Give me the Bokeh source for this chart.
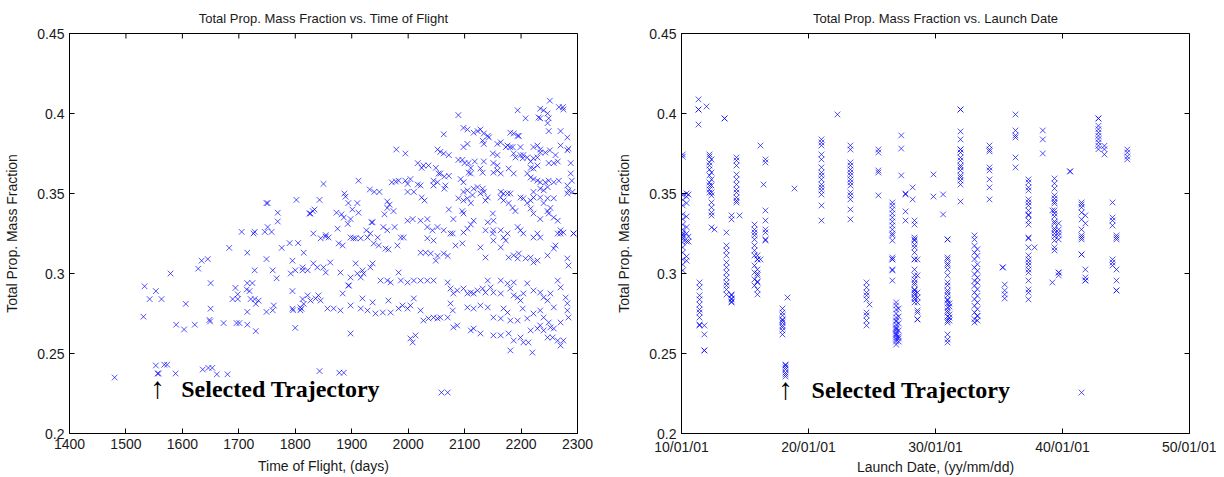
import numpy as np
from bokeh.plotting import figure
from bokeh.layouts import row
from bokeh.models import Range1d, FixedTicker, NumeralTickFormatter, Label
from bokeh.embed import file_html
from bokeh.resources import INLINE

# ---------------- data: left panel (time of flight vs mass fraction) ----------------
tof_days = [
    1480, 1533, 1542, 1531, 1553, 1563, 1579, 1589, 1603, 1606,
    1622, 1628, 1634, 1645, 1650, 1650, 1648, 1649, 1673, 1683,
    1689, 1694, 1696, 1701, 1698, 1698, 1705, 1715, 1715, 1714,
    1724, 1719, 1721, 1715, 1715, 1728, 1728, 1730, 1730, 1728,
    1735, 1749, 1749, 1760, 1760, 1762, 1758, 1746, 1767, 1776,
    1790, 1805, 1792, 1795, 1795, 1795, 1796, 1800, 1800, 1809,
    1811, 1813, 1815, 1813, 1815, 1822, 1553, 1556, 1558, 1568,
    1573, 1588, 1636, 1646, 1653, 1661, 1680, 1843, 1878, 1886,
    2059, 2070, 1726, 1751, 1749, 1751, 1769, 1769, 1802, 1825,
    1850, 1843, 1834, 1831, 1827, 1887, 1889, 1873, 1882, 1886,
    1894, 1901, 1910, 1912, 1898, 1893, 1875, 1912, 1932, 1940,
    1949, 1935, 1937, 1926, 1963, 1967, 1963, 1974, 1958, 1971,
    1978, 1983, 1979, 1995, 1976, 1995, 2004, 1999, 1999, 2010,
    1999, 2008, 2017, 2024, 2024, 2029, 2017, 2022, 2034, 2027,
    2036, 2049, 2045, 2052, 2045, 2052, 2057, 2063, 2072, 2063,
    2054, 2057, 2064, 2072, 2066, 2064, 2080, 2089, 2096, 2072,
    2089, 2098, 2105, 2098, 2105, 2093, 2098, 2100, 2107, 2111,
    2107, 2111, 2089, 2098, 2105, 2111, 2098, 2105, 2114, 2096,
    2098, 2111, 2105, 2116, 2116, 2123, 2128, 2134, 2143, 2132,
    2134, 2141, 2118, 2128, 2132, 2134, 2116, 2123, 2132, 2134,
    2128, 2137, 2141, 2137, 2151, 2151, 2158, 2151, 2158, 2164,
    2150, 2158, 2158, 2164, 2173, 2176, 2181, 2181, 2187, 2194,
    2196, 2194, 2208, 2187, 2190, 2199, 2203, 2204, 2185, 2199,
    2178, 2187, 2164, 2169, 2176, 2181, 2164, 2169, 2178, 2185,
    2190, 2199, 2204, 2211, 2217, 2222, 2211, 2217, 2222, 2229,
    2234, 2243, 2249, 2258, 2267, 2211, 2217, 2222, 2229, 2234,
    2217, 2222, 2229, 2222, 2229, 2234, 2243, 2251, 2234, 2240,
    2247, 2249, 2247, 2249, 2234, 2231, 2251, 2267, 2274, 2275,
    2270, 2282, 2270, 2282, 2284, 2249, 2258, 2265, 2261, 2288,
    2288, 2290, 2282, 2284, 2291, 2282, 2247, 2240, 2234, 2222,
    2234, 2247, 2258, 2240, 2252, 2217, 2222, 2234, 2247, 2249,
    2258, 2265, 2270, 2275, 2293, 2194, 2199, 2204, 2222, 2164,
    2176, 2169, 2150, 2151, 2141, 2063, 2075, 2043, 2052, 2022,
    2034, 1956, 1963, 1933, 1946, 1898, 1907, 1854, 1859, 1854,
    1877, 1884, 1903, 1916, 1928, 1939, 1948, 1960, 1965, 1981,
    1987, 1992, 2022, 2031, 2040, 2052, 2063, 2070, 2084, 2096,
    2049, 2079, 2098, 2034, 2045, 2128, 2137, 2150, 2151, 2164,
    2173, 2178, 2187, 2194, 2196, 2208, 2217, 2222, 2229, 2229,
    2234, 2247, 2258, 2261, 2265, 2270, 2282, 2284, 2293, 1813,
    1832, 1839, 1850, 1854, 1862, 1880, 1898, 1910, 1921, 1919,
    1933, 1937, 1951, 1963, 1969, 1983, 1987, 1999, 2010, 2022,
    2034, 2045, 1907, 1916, 1894, 1895, 2070, 2075, 2080, 2087,
    2098, 2105, 2111, 2116, 2123, 2132, 2137, 2146, 2151, 2164,
    2176, 2181, 2187, 2194, 2199, 2204, 2211, 2222, 2234, 2240,
    2247, 2252, 2265, 2270, 2279, 2282, 2187, 2164, 2141, 1809,
    1822, 1827, 1836, 1845, 1841, 1857, 1868, 1880, 1884, 1898,
    1916, 1919, 1928, 1937, 1942, 1955, 1969, 1965, 1983, 1990,
    1999, 2004, 2010, 2022, 2027, 2036, 2045, 2052, 2057, 2070,
    2075, 2079, 2080, 2087, 2111, 2116, 2128, 2105, 2116, 2128,
    2141, 2151, 2164, 2169, 2176, 2181, 2194, 2203, 2211, 2222,
    2234, 2240, 2249, 2258, 2270, 2282, 2284, 1898, 2004, 2008,
    2013, 2151, 2164, 2178, 2181, 2187, 2199, 2204, 2213, 2217,
    2220, 2229, 2234, 2240, 2247, 2252, 2258, 2256, 2265, 2270,
    2275, 1832, 1845,
]
tof_mass_fraction = [
    .235, .292, .284, .273, .289, .284, .300, .268, .265, .281,
    .268, .303, .308, .309, .294, .278, .271, .270, .269, .316,
    .284, .291, .269, .269, .287, .284, .326, .313, .294, .290,
    .294, .289, .284, .276, .268, .302, .284, .281, .264, .326,
    .283, .309, .276, .302, .277, .280, .326, .326, .297, .316,
    .319, .319, .300, .289, .308, .278, .277, .302, .266, .277,
    .278, .302, .313, .284, .281, .302, .2425, .2375, .2375, .243,
    .243, .2375, .240, .241, .241, .237, .237, .239, .238, .238,
    .2256, .2256, .325, .329, .344, .344, .338, .3325, .346, .3375,
    .356, .346, .340, .339, .3375, .350, .348, .338, .337, .335,
    .344, .340, .344, .338, .334, .331, .328, .358, .3525, .351,
    .351, .332, .332, .327, .345, .343, .341, .339, .337, .357,
    .3575, .358, .3775, .375, .329, .358, .359, .356, .351, .351,
    .333, .334, .369, .366, .3475, .3456, .3556, .355, .334, .3675,
    .3675, .366, .358, .357, .355, .3775, .376, .375, .374, .387,
    .3625, .3625, .3606, .361, .355, .353, .334, .371, .371, .340,
    .399, .391, .390, .379, .381, .359, .357, .369, .369, .366,
    .363, .3625, .347, .3456, .347, .344, .351, .352, .349, .339,
    .3375, .3306, .328, .333, .388, .389, .390, .3875, .385, .383,
    .381, .386, .370, .3656, .363, .370, .353, .354, .353, .351,
    .350, .3456, .3475, .327, .327, .369, .3675, .363, .3644, .3625,
    .375, .374, .381, .382, .379, .380, .379, .388, .3875, .386,
    .386, .402, .397, .375, .3725, .374, .372, .374, .379, .379,
    .3656, .3625, .351, .350, .350, .350, .3475, .3456, .344, .341,
    .339, .3475, .347, .344, .3456, .3475, .3625, .360, .359, .358,
    .357, .357, .358, .357, .358, .3725, .370, .372, .3725, .3756,
    .366, .3656, .3675, .379, .380, .3775, .3756, .377, .403, .402,
    .400, .397, .394, .389, .397, .3975, .408, .404, .404, .4025,
    .389, .385, .380, .377, .378, .369, .369, .370, .374, .369,
    .3625, .358, .355, .352, .351, .350, .354, .352, .353, .351,
    .3475, .347, .347, .344, .341, .3406, .3375, .334, .339, .3375,
    .335, .333, .327, .3256, .325, .329, .327, .325, .3225, .327,
    .325, .3225, .3375, .333, .332, .327, .325, .327, .329, .333,
    .329, .329, .327, .325, .3225, .3225, .322, .324, .3225, .323,
    .3188, .3175, .322, .322, .3225, .3188, .3175, .3156, .315, .3175,
    .3225, .3225, .313, .313, .3125, .311, .3125, .311, .3175, .3188,
    .308, .325, .3256, .322, .3206, .3163, .310, .325, .3206, .3163,
    .3206, .310, .3113, .3094, .3125, .3094, .310, .3069, .3081, .325,
    .3225, .3113, .3156, .3175, .325, .325, .3094, .305, .325, .3038,
    .3063, .3038, .3038, .3006, .3069, .3006, .2975, .300, .300, .3019,
    .3038, .3063, .2956, .2956, .2944, .3006, .2956, .2944, .2956, .2956,
    .2956, .2956, .3063, .2975, .2925, .2925, .2944, .2906, .2875, .2894,
    .2906, .2875, .2881, .2875, .2894, .2906, .2881, .2913, .2881, .2875,
    .2938, .2906, .2863, .285, .2831, .2875, .2938, .2894, .2881, .285,
    .2831, .2875, .2956, .2913, .285, .2813, .2944, .2956, .2956, .2788,
    .2863, .2831, .2844, .2831, .2863, .2781, .2781, .2769, .2875, .280,
    .2781, .2844, .2769, .2819, .275, .2756, .2756, .2831, .2781, .280,
    .2781, .280, .2844, .2769, .2706, .2719, .2725, .2719, .2725, .2725,
    .2813, .2769, .2663, .2675, .2644, .2656, .2625, .2788, .2781, .280,
    .2788, .2725, .2719, .2781, .2756, .2706, .2706, .2781, .2719, .275,
    .2769, .2725, .2694, .2788, .2694, .2769, .2725, .2625, .2594, .2569,
    .2613, .2613, .2613, .2625, .2519, .2581, .260, .2569, .2569, .2644,
    .2506, .2656, .2675, .2644, .260, .2663, .2656, .260, .2581, .255,
    .2581, .325, .322,
]

# ---------------- data: right panel (launch date, as decimal year, vs mass fraction) ----------------
launch_col_year = [
    2010.10, 2010.40, 2010.55, 2011.34, 2011.42, 2011.80, 2011.97, 2012.20, 2012.36, 2012.60,
    2013.39, 2013.54, 2013.94, 2014.33, 2014.57, 2015.75, 2015.98, 2016.22, 2016.46, 2016.61,
    2017.95, 2018.19, 2018.35, 2018.90, 2021.02, 2022.28, 2023.30, 2024.57, 2024.80, 2025.50,
    2026.60, 2026.90, 2027.10, 2027.30, 2027.64, 2028.20, 2028.35, 2028.58, 2029.84, 2030.60,
    2030.95, 2031.10, 2031.97, 2033.07, 2033.30, 2034.25, 2035.30, 2035.45, 2036.30, 2037.32,
    2037.80, 2038.45, 2039.37, 2039.70, 2039.20, 2040.60, 2041.50, 2041.80, 2042.83, 2043.30,
    2043.94, 2044.25, 2045.10,
]
launch_col_mf = [
    [.3744, .373, .349, .346, .3425, .337, .334, .3306, .3275, .3256, .3238, .3213, .3244, .3225, .3194, .3163, .3131, .3088, .3056, .3019],
    [.350, .348, .344, .3356, .329, .325, .320, .3106, .308],
    [.3494, .323, .320],
    [.4088, .4025, .4025, .3931],
    [.2944, .2913, .2863, .2838, .2806, .2775, .2756, .2725, .2681, .2675],
    [.2519, .2519, .2675, .2619],
    [.4044],
    [.3744, .3731, .3694, .3675, .365, .3613, .3569, .355, .3525, .3506],
    [.3713, .3631, .3588, .3488, .3444, .3413, .3381, .3363, .355, .3506, .3288],
    [.3275],
    [.3969, .3969],
    [.3256, .3175, .3144, .3113, .3069, .3038, .3006, .2975, .2944, .2925, .290, .2869],
    [.3363, .3338, .2869, .2838, .2863, .2819, .2825, .2844],
    [.3725, .3706, .3675, .3619, .3588, .3556, .3525, .3506, .3475, .3456, .3444],
    [.3363],
    [.3306, .3275, .3256, .3238, .3213, .3175, .3144, .3113, .305, .3006, .2963, .2925],
    [.3088, .3088, .3025, .2988, .2944, .290, .2869, .3113, .300, .295],
    [.380, .3088],
    [.3556],
    [.3713, .3694, .3394, .3331, .3275, .3256, .3213, .3206],
    [.2781, .2756, .2738, .2713, .2694, .2675, .2644, .2619, .2706, .2663],
    [.2431, .2425, .2413, .240, .2381, .2369, .2356],
    [.285],
    [.3531],
    [.3838, .3819, .380, .3744, .3713, .3663, .3631, .3613, .3588, .3556, .3538, .3519, .3494, .3425, .3331],
    [.3994],
    [.380, .3775, .3694, .3675, .365, .3631, .3613, .3588, .3569, .355, .3506, .3488, .3463, .340, .3338],
    [.2944, .2913, .2881, .2863, .2838, .2756, .2738, .2706, .2675],
    [.2806],
    [.3775, .3756, .3644, .3631, .3488],
    [.3444, .3425, .340, .3375, .335, .3325, .330, .3275, .325, .3238, .3206, .310, .3088, .3088, .3025, .3019, .2956],
    [.2819, .280, .2775, .275, .2725, .270, .2681, .2663, .265, .2638, .2625, .2613, .260, .2588, .2575, .2556, .2706, .2656, .2619],
    [.2781, .2731, .2688, .2644, .2606, .2594, .2575],
    [.3863, .3781, .3613],
    [.350, .3494, .3388, .3331],
    [.3538, .3463],
    [.3331, .3306, .3213, .3225, .3206, .3181, .3163, .3131, .3088, .3088, .3025, .2988, .2963, .2944, .2931, .290, .2894, .2881, .2869, .285, .2838, .2819],
    [.3088, .2988, .2881, .285, .2819, .2769, .2756, .2713, .2713],
    [.3619, .3481],
    [.3494, .3369],
    [.3213, .3213, .310, .3088, .305, .3025, .2988, .2944, .2925, .2894, .2881, .2838, .2831, .2788, .2756, .2706, .2694, .2619, .2588, .2569, .3063, .2863, .2813, .2769, .2731],
    [.2813, .2794, .2744, .2725, .2706],
    [.4025, .4025, .3888, .3838, .3775, .3775, .3756, .3725, .3706, .3675, .3663, .3644, .3613, .360, .3581, .3556, .345],
    [.3238, .3213, .3173, .3131, .309, .3038, .2996, .2954, .2923, .2881, .284, .2798, .2756, .2715, .2694],
    [.3152, .311, .3058, .3017, .2975, .2944, .2902, .286, .2819, .2777, .2735, .2706, .2735],
    [.380, .3775, .3763, .3663, .3644, .3588, .3538, .3463],
    [.3038, .3038],
    [.2931, .2894, .2869, .2844],
    [.3994, .3894, .3863, .385, .3725, .3663],
    [.3588, .3569, .3538, .3519, .3463, .3444, .3425, .3394, .3369, .3363, .3331, .3306, .3219, .3225, .3163, .3113, .3088, .3069, .305, .3025, .3006, .2956, .290, .2881, .2838],
    [.3163],
    [.3894, .3838, .375],
    [.3594, .3563, .3531, .3488, .3469, .345, .3438, .3394, .3375, .3356, .3325, .3313, .3281, .3269, .325, .3231, .3206, .3144, .3163],
    [.3313, .3275, .3256, .3238, .3213, .3006, .3006, .2988],
    [.3394, .2944],
    [.3638, .3638],
    [.3444, .3431, .3413, .3381, .3338, .3275, .3238, .3213, .3225, .3119, .3119, .2256],
    [.3363, .3313, .3025, .2975, .2956, .2956],
    [.3969, .3969, .3923, .3902, .3881, .386, .384, .3819, .3798, .3777],
    [.3777, .3744, .3798],
    [.3444, .335, .3331, .330, .3088, .3069, .305],
    [.3238, .3213, .3225, .3025, .2956, .2894, .2894],
    [.3775, .3756, .3731, .3713],
]

tof_ticks = [1400, 1500, 1600, 1700, 1800, 1900, 2000, 2100, 2200, 2300]
mf_ticks = [0.2, 0.25, 0.3, 0.35, 0.4, 0.45]
date_ticks = [2010, 2020, 2030, 2040, 2050]
date_tick_labels = ["10/01/01", "20/01/01", "30/01/01", "40/01/01", "50/01/01"]

launch_x = [yr for yr, col in zip(launch_col_year, launch_col_mf) for _ in col]
launch_y = [v for col in launch_col_mf for v in col]

FONT = "Liberation Sans"
SERIF = "Liberation Serif"
TXT = "#1a1a1a"
MARK = "#0000ff"
FW, FH = 508, 400
TICK_PX = 5
Y0, Y1 = 0.2, 0.45


def make_fig(title, x0, x1, xticks, xlabel, borders, xlabel_standoff, overrides=None):
    bl, br, bt, bb = borders
    p = figure(frame_width=FW, frame_height=FH,
               x_range=Range1d(x0, x1), y_range=Range1d(Y0, Y1),
               output_backend="svg", toolbar_location=None,
               min_border_left=bl, min_border_right=br,
               min_border_top=bt, min_border_bottom=bb,
               title=title)
    p.title.text_font = FONT
    p.title.text_font_size = "13px"
    p.title.text_font_style = "normal"
    p.title.text_color = TXT
    p.title.align = "center"
    p.title.vertical_align = "top"
    p.title.offset = 0
    p.title.standoff = 12
    p.xgrid.visible = False
    p.ygrid.visible = False
    p.outline_line_color = "black"
    p.outline_line_alpha = 1.0
    p.outline_line_width = 1
    p.background_fill_color = "white"
    p.border_fill_color = "white"

    for ax in (p.xaxis[0], p.yaxis[0]):
        ax.major_tick_in = TICK_PX
        ax.major_tick_out = 0
        ax.minor_tick_in = 0
        ax.minor_tick_out = 0
        ax.axis_line_color = "black"
        ax.major_tick_line_color = "black"
        ax.major_label_text_font = FONT
        ax.major_label_text_font_size = "14px"
        ax.major_label_text_color = TXT
        ax.axis_label_text_font = FONT
        ax.axis_label_text_font_size = "14px"
        ax.axis_label_text_font_style = "normal"
        ax.axis_label_text_color = TXT
    p.xaxis[0].ticker = FixedTicker(ticks=xticks)
    p.yaxis[0].ticker = FixedTicker(ticks=mf_ticks)
    p.yaxis[0].formatter = NumeralTickFormatter(format="0.[00]")
    p.xaxis[0].axis_label = xlabel
    p.yaxis[0].axis_label = "Total Prop. Mass Fraction"
    p.xaxis[0].major_label_standoff = 5
    p.xaxis[0].axis_label_standoff = xlabel_standoff
    p.yaxis[0].major_label_standoff = 5
    p.yaxis[0].axis_label_standoff = 14
    if overrides:
        p.xaxis[0].major_label_overrides = overrides

    # inward tick marks on the top and right edges (MATLAB box style)
    dy = (Y1 - Y0) * TICK_PX / FH
    dx = (x1 - x0) * TICK_PX / FW
    p.segment(x0=xticks, y0=[Y1] * len(xticks), x1=xticks, y1=[Y1 - dy] * len(xticks),
              line_color="black", line_width=1)
    p.segment(x0=[x1] * len(mf_ticks), y0=mf_ticks, x1=[x1 - dx] * len(mf_ticks), y1=mf_ticks,
              line_color="black", line_width=1)
    return p


BORDERS_L = (69, 35, 33, 43)
BORDERS_R = (69, 27, 33, 43)

p1 = make_fig("Total Prop. Mass Fraction vs. Time of Flight", 1400, 2300, tof_ticks,
              "Time of Flight, (days)", BORDERS_L, 6)
p1.scatter(tof_days, tof_mass_fraction, marker="x", size=8,
           line_color=MARK, line_alpha=0.68, line_width=1)
p1.add_layout(Label(x=1556, y=0.2186, text="\u2191", text_align="center",
                    text_font=SERIF, text_font_size="30px", text_font_style="bold",
                    text_color="black"))
p1.add_layout(Label(x=1598, y=0.2194, text="Selected Trajectory", text_align="left",
                    text_font=SERIF, text_font_size="24px", text_font_style="bold",
                    text_color="black"))

p2 = make_fig("Total Prop. Mass Fraction vs. Launch Date", 2010, 2050, date_ticks,
              "Launch Date, (yy/mm/dd)", BORDERS_R, 1,
              overrides={t: s for t, s in zip(date_ticks, date_tick_labels)})
p2.scatter(launch_x, launch_y, marker="x", size=8,
           line_color=MARK, line_alpha=0.68, line_width=1)
p2.add_layout(Label(x=2018.19, y=0.2180, text="\u2191", text_align="center",
                    text_font=SERIF, text_font_size="30px", text_font_style="bold",
                    text_color="black"))
p2.add_layout(Label(x=2020.24, y=0.2188, text="Selected Trajectory", text_align="left",
                    text_font=SERIF, text_font_size="24px", text_font_style="bold",
                    text_color="black"))

layout = row(p1, p2)
open("out.html", "w").write(file_html(layout, INLINE))
